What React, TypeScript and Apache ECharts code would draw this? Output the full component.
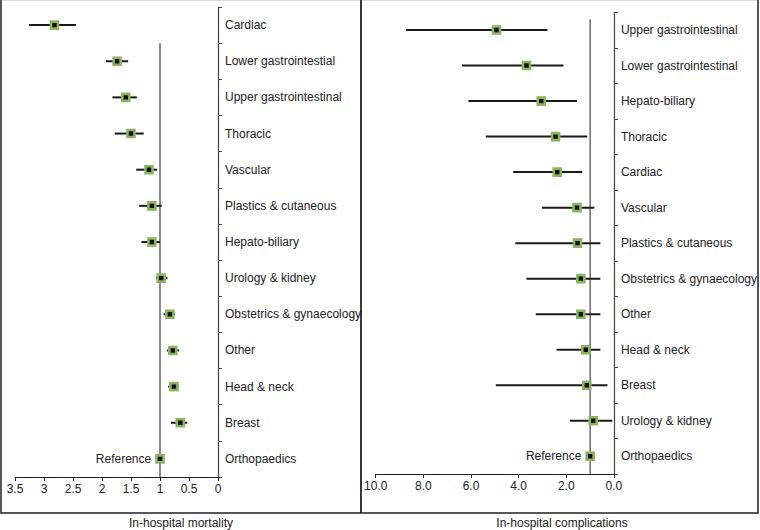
import React, { useEffect, useRef } from "react";
import * as echarts from "echarts";

const mortalityCategories = [
  "Cardiac",
  "Lower gastrointestial",
  "Upper gastrointestinal",
  "Thoracic",
  "Vascular",
  "Plastics & cutaneous",
  "Hepato-biliary",
  "Urology & kidney",
  "Obstetrics & gynaecology",
  "Other",
  "Head & neck",
  "Breast",
  "Orthopaedics",
];
const mortalityEstimate = [2.82, 1.74, 1.59, 1.5, 1.19, 1.14, 1.14, 0.98, 0.83, 0.78, 0.76, 0.65, 1.0];
const mortalityLower = [2.45, 1.55, 1.4, 1.28, 1.05, 0.97, 1.0, 0.87, 0.74, 0.67, 0.68, 0.53, null];
const mortalityUpper = [3.26, 1.93, 1.82, 1.78, 1.41, 1.36, 1.32, 1.07, 0.94, 0.88, 0.86, 0.81, null];

const complicationCategories = [
  "Upper gastrointestinal",
  "Lower gastrointestinal",
  "Hepato-biliary",
  "Thoracic",
  "Cardiac",
  "Vascular",
  "Plastics & cutaneous",
  "Obstetrics & gynaecology",
  "Other",
  "Head & neck",
  "Breast",
  "Urology & kidney",
  "Orthopaedics",
];
const complicationEstimate = [4.93, 3.67, 3.05, 2.45, 2.38, 1.55, 1.53, 1.39, 1.39, 1.18, 1.14, 0.87, 1.0];
const complicationLower = [2.79, 2.12, 1.55, 1.12, 1.33, 0.82, 0.57, 0.57, 0.57, 0.57, 0.27, 0.07, null];
const complicationUpper = [8.73, 6.38, 6.11, 5.38, 4.23, 3.02, 4.14, 3.67, 3.28, 2.41, 4.96, 1.85, null];

const referenceValue = 1;
const mortalityTicks = { min: 0, max: 3.5, interval: 0.5 };
const complicationTicks = { min: 0, max: 10, interval: 2 };

const FONT = "'Liberation Sans', Arial, sans-serif";
const TEXT = "#222";

function errorData(lo: (number | null)[], hi: (number | null)[]) {
  const out: number[][] = [];
  lo.forEach((l, i) => {
    const h = hi[i];
    if (l != null && h != null) out.push([i, l, h]);
  });
  return out;
}

function pointData(est: number[], cats: string[]) {
  return est.map((v, i) => {
    const isRef = i === cats.length - 1;
    return {
      value: [v, i],
      label: isRef
        ? { show: true, formatter: "Reference", position: "left", distance: 4, color: TEXT, fontSize: 12, fontFamily: FONT }
        : { show: false },
    };
  });
}

const errRender = (params: any, api: any) => {
  const cat = api.value(0);
  const p1 = api.coord([api.value(1), cat]);
  const p2 = api.coord([api.value(2), cat]);
  return {
    type: "line",
    shape: { x1: p1[0], y1: p1[1], x2: p2[0], y2: p2[1] },
    style: { stroke: "#1a1a1a", lineWidth: 2 },
  };
};

const refRender = (offset: number, color: string, width: number) => (params: any, api: any) => {
  const p = api.coord([api.value(0), api.value(1)]);
  const band = api.size([0, 1])[1];
  const cs = params.coordSys;
  return {
    type: "line",
    shape: { x1: p[0], y1: p[1] - band * offset, x2: p[0], y2: cs.y + cs.height },
    style: { stroke: color, lineWidth: width },
  };
};

export default function App() {
  const ref = useRef<HTMLDivElement>(null);
  useEffect(() => {
    if (!ref.current) return;
    const chart = echarts.init(ref.current, null, { renderer: "svg" });
    const yAxisBase = (cats: string[], gridIndex: number, margin: number) => ({
      type: "category",
      gridIndex,
      data: cats,
      inverse: true,
      position: "right",
      axisLine: { show: true, lineStyle: { color: "#444", width: 1.2 } },
      axisTick: { show: true, inside: false, length: 4, lineStyle: { color: "#444" } },
      axisLabel: { margin, color: TEXT, fontSize: 12, fontFamily: FONT },
      splitLine: { show: false },
    });
    const xAxisBase = (gridIndex: number, t: any, fmt: (v: number) => string) => ({
      type: "value",
      gridIndex,
      inverse: true,
      min: t.min,
      max: t.max,
      interval: t.interval,
      axisLine: { show: true, onZero: false, lineStyle: { color: "#222", width: 1.2 } },
      axisTick: { show: true, inside: false, length: 4, lineStyle: { color: "#222" } },
      axisLabel: { margin: 6, color: TEXT, fontSize: 12, fontFamily: FONT, formatter: fmt },
      splitLine: { show: false },
    });
    const marker = {
      symbol: "rect",
      symbolSize: 7,
      itemStyle: { color: "#111", borderColor: "#8cb460", borderWidth: 2.6, opacity: 1 },
    };
    chart.setOption({
      animation: false,
      textStyle: { fontFamily: FONT },
      grid: [
        { left: 15, top: 7, width: 203, height: 470 },
        { left: 375.7, top: 12.3, width: 245, height: 461.7 },
      ],
      xAxis: [
        xAxisBase(0, mortalityTicks, (v: number) => String(v)),
        xAxisBase(1, complicationTicks, (v: number) => v.toFixed(1)),
      ],
      yAxis: [
        yAxisBase(mortalityCategories, 0, 7),
        yAxisBase(complicationCategories, 1, 7),
      ],
      series: [
        {
          type: "custom",
          xAxisIndex: 0,
          yAxisIndex: 0,
          renderItem: refRender(0.5, "#8a8a8a", 2),
          data: [[referenceValue, 1]],
          z: 1,
          silent: true,
        },
        {
          type: "custom",
          xAxisIndex: 1,
          yAxisIndex: 1,
          renderItem: refRender(0.3, "#222", 1),
          data: [[referenceValue, 0]],
          z: 1,
          silent: true,
        },
        {
          type: "custom",
          xAxisIndex: 0,
          yAxisIndex: 0,
          renderItem: errRender,
          encode: { x: [1, 2], y: 0 },
          data: errorData(mortalityLower, mortalityUpper),
          z: 2,
        },
        {
          type: "custom",
          xAxisIndex: 1,
          yAxisIndex: 1,
          renderItem: errRender,
          encode: { x: [1, 2], y: 0 },
          data: errorData(complicationLower, complicationUpper),
          z: 2,
        },
        {
          type: "scatter",
          xAxisIndex: 0,
          yAxisIndex: 0,
          ...marker,
          data: pointData(mortalityEstimate, mortalityCategories),
          z: 3,
        },
        {
          type: "scatter",
          xAxisIndex: 1,
          yAxisIndex: 1,
          ...marker,
          data: pointData(complicationEstimate, complicationCategories),
          z: 3,
        },
      ],
      graphic: [
        { type: "line", shape: { x1: 1, y1: 0.5, x2: 758, y2: 0.5 }, style: { stroke: "#ddd", lineWidth: 1 } },
        { type: "polyline", shape: { points: [[1, 0], [1, 513], [758, 513], [758, 0]] }, style: { stroke: "#222", lineWidth: 1.5, fill: null } },
        { type: "line", shape: { x1: 361, y1: 0, x2: 361, y2: 513 }, style: { stroke: "#222", lineWidth: 1.8 } },
        { type: "text", x: 181, y: 523, style: { text: "In-hospital mortality", fill: TEXT, fontSize: 12, fontFamily: FONT, align: "center", verticalAlign: "middle" } },
        { type: "text", x: 562, y: 523, style: { text: "In-hospital complications", fill: TEXT, fontSize: 12, fontFamily: FONT, align: "center", verticalAlign: "middle" } },
      ],
    });
    return () => chart.dispose();
  }, []);
  return <div ref={ref} style={{ position: "fixed", left: 0, top: 0, width: 760, height: 530, background: "#fff" }} />;
}
